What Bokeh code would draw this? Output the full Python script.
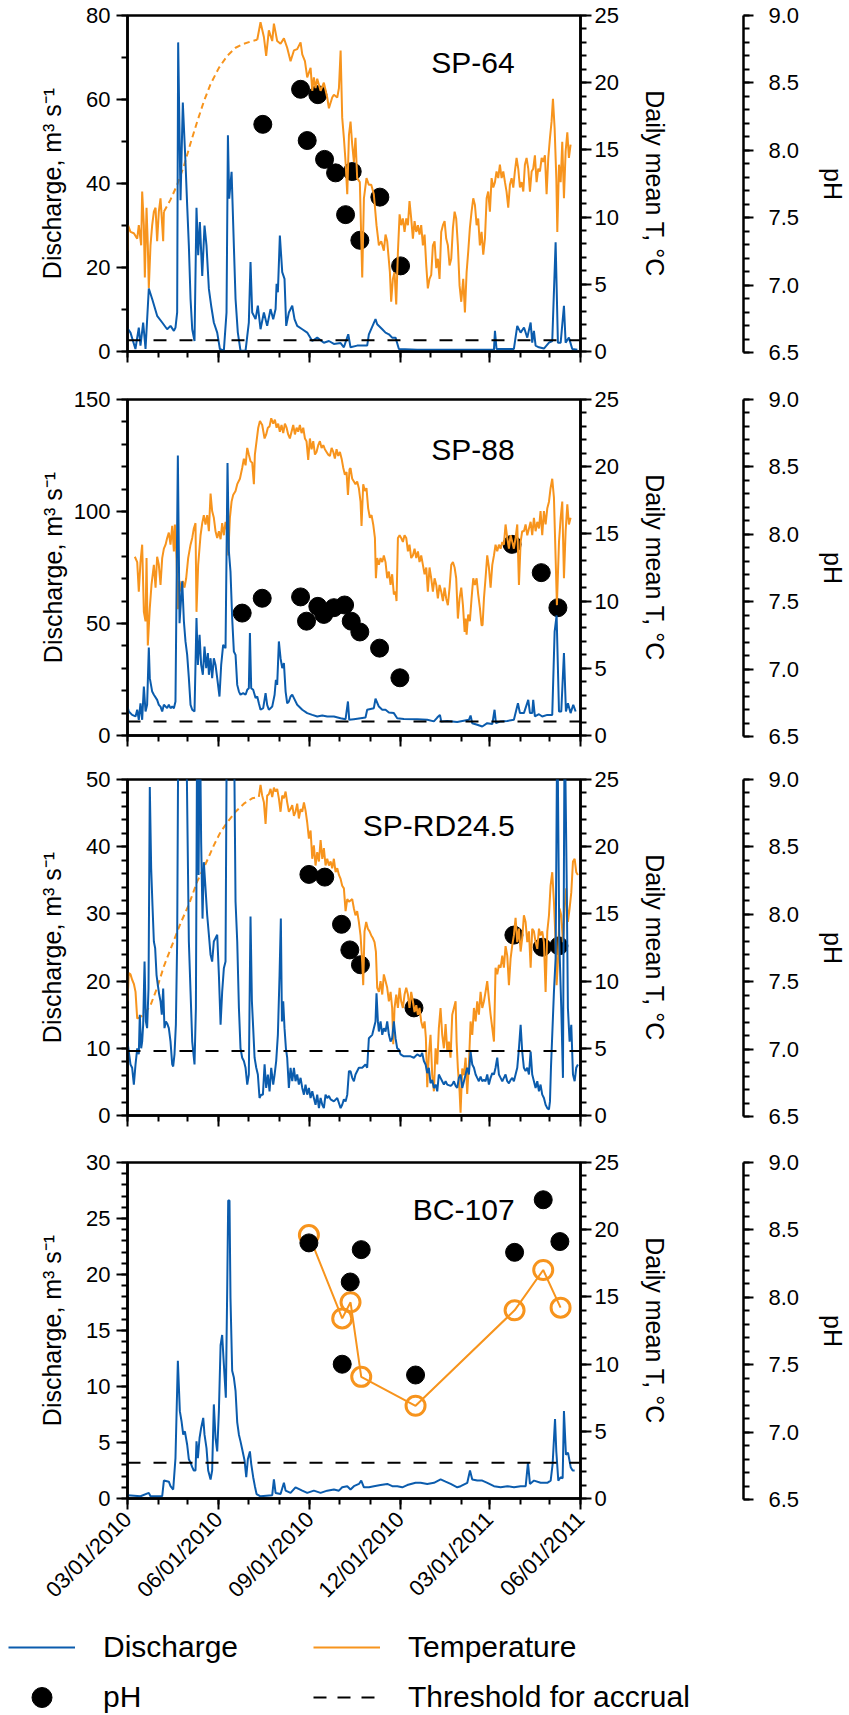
import math
import datetime as dt
from bokeh.plotting import figure
from bokeh.models import (Range1d, LinearAxis, FixedTicker, Span, Label, Legend, LegendItem,
                          DatetimeTickFormatter, NumeralTickFormatter, CustomJSTickFormatter)
from bokeh.layouts import column, row
from bokeh.embed import file_html
from bokeh.resources import INLINE

# ---------------- data (day offset from 03/01/2010, value) ----------------
sp64_discharge = [(0,5.5),(3,4.5),(8,0.6),(11.4,5.7),(13.1,1.4),(15.8,6.9),(18.2,0.6),(21.5,15.0),(24.9,12.5),(29.9,8.5),(35,6.9),(40,5.3),(43.4,6.1),(46.8,4.9),(48.4,5.7),(50.1,9.3),(51.1,73.6),(53.5,36.0),(55.8,59.3),(58.5,45.0),(60.2,34.8),(61.9,25.2),(63.6,12.5),(65.3,5.3),(67.6,2.5),(69.6,34.2),(71.3,22.9),(73,30.8),(75.4,18.0),(77.7,30.0),(79.7,25.2),(82.1,14.9),(84.4,10.9),(87.1,6.9),(90.5,4.5),(93.2,0.6),(97.2,0.2),(99.9,9.3),(101.3,51.5),(102.6,36.4),(105,42.8),(107.3,25.2),(109,12.5),(111.3,4.5),(114,0.2),(119.1,0.2),(122.4,6.9),(124.1,21.3),(125.8,9.3),(129.2,7.7),(131.5,10.9),(134.2,5.3),(137.6,9.3),(140.9,6.1),(144.3,10.1),(147,7.7),(149.4,10.1),(150.4,16.1),(151.7,14.1),(153.7,27.6),(156.1,18.9),(158.4,17.3),(160.1,6.1),(162.8,9.3),(166.2,10.9),(168.5,7.7),(171.2,6.1),(176.3,5.3),(181.3,4.5),(186.4,2.5),(191.4,3.3),(198.1,2.1),(203.2,2.5),(208.2,1.8),(215,2.0),(218.3,1.0),(222.7,4.1),(225,1.0),(231.7,1.4),(241.8,1.4),(243.5,4.1),(250.2,7.7),(251.9,6.5),(257,5.3),(260.3,4.5),(263.7,4.1),(267,3.3),(270.4,3.3),(273.8,0.6),(292.3,0.4),(326,0.4),(369.7,0.4),(370.7,4.9),(372.3,0.6),(389.8,0.6),(393.2,6.1),(396.6,4.5),(400,5.7),(403.3,3.3),(406.7,6.9),(408.3,2.1),(410,4.9),(411.7,1.4),(415,1.0),(420.1,0.7),(425.2,2.1),(428.5,2.5),(431.9,26.0),(434.2,2.1),(437,2.1),(440.3,10.9),(442,2.1),(445.3,3.3),(448.7,0.6),(453.8,0.4)]
sp64_temp_early = [(0,7.5),(0.5,9.4),(3,8.9),(6.4,8.8),(9.8,8.4),(11.4,9.4),(13.8,7.9),(14.8,11.9),(16.5,9.4),(17.5,5.5),(19.2,10.7),(20.5,7.9),(21.5,4.7),(23.2,7.9),(24.9,9.4),(26.6,10.4),(28.3,10.7),(29.9,8.2),(31.6,10.4),(33.3,11.4),(35,9.4),(36,8.2),(36.7,10.4)]
sp64_temp_gap = [(36.7,10.4),(43.4,11.3),(50.1,12.4),(56.9,13.8),(63.6,15.5),(70.3,17.1),(77,18.6),(83.8,19.9),(92.2,21.1),(100.6,22.0),(109,22.6),(117.4,22.9),(125.8,23.1),(130.9,23.2)]
sp64_temp_late = [(130.9,23.2),(134.2,24.5),(137.6,23.4),(139.9,22.0),(142.6,23.9),(146,23.1),(147.7,24.4),(151,23.1),(154.4,22.9),(157.8,23.3),(161.1,22.6),(164.5,21.6),(167.9,22.4),(171.2,22.5),(174.6,23.0),(176.3,22.1),(179,21.6),(181.3,20.4),(184.7,21.1),(186.4,19.4),(188,20.4),(189.7,19.6),(191.4,20.3),(194.8,19.4),(198.1,20.0),(201.5,18.9),(203.2,18.1),(206.5,18.9),(208.2,19.1),(211.6,18.9),(213.3,19.6),(215,22.4),(216.6,17.4),(218.3,15.9),(220,14.1),(221.7,11.7),(223.4,16.1),(225,17.1),(226.7,15.4),(228.4,14.1),(230,15.9),(231.7,12.9),(234.4,12.6),(236.8,5.5),(238.5,11.4),(241.1,12.9),(243.5,12.4),(245.9,12.4),(248.5,11.7),(251.2,9.4),(253.6,7.9),(256,8.2),(258.6,7.5),(260.3,8.7),(262,8.2),(264.7,5.9),(266,3.7),(267.7,5.4),(269.4,5.9),(271.1,3.5),(272.8,7.4),(274.5,10.2),(276.1,9.4),(277.8,9.9),(279.5,8.9),(281.2,9.9),(282.9,9.4),(284.5,11.2),(286.2,9.9),(287.9,8.4),(289.6,9.7),(291.3,8.9),(293,9.4),(294.6,8.7),(296.3,9.4),(298,7.9),(299.7,8.7),(301.4,6.4),(303,4.7),(304.7,5.4),(306.4,5.7),(308.1,7.9),(309.8,8.2),(311.5,6.2),(313.1,6.9),(314.8,5.4),(316.5,8.9),(318.2,9.4),(319.9,9.7),(321.5,8.4),(323.2,7.9),(324.9,6.4),(326.6,6.9),(328.3,9.2),(330,10.4),(331.6,9.9),(333.3,7.9),(335,4.9),(336.7,3.7),(338.7,5.4),(340.4,2.9),(342.1,5.9),(343.7,7.4),(345.4,9.2),(347.1,10.4),(348.8,11.4),(350.5,10.9),(352.2,9.4),(353.8,9.9),(355.5,7.9),(357.2,8.9),(358.9,7.2),(360.6,8.4),(362.3,11.4),(363.9,11.9),(365.6,10.4),(367.3,12.9),(369,12.2),(370.7,12.6),(372.3,13.4),(374,12.9),(375.7,13.9),(377.4,12.9),(379.1,13.4),(380.8,12.6),(382.4,11.9),(384.1,10.7),(385.8,12.4),(387.5,12.9),(389.2,12.2),(390.8,13.4),(392.5,14.4),(394.2,13.6),(395.9,12.2),(397.6,12.6),(399.3,11.9),(400.9,13.9),(402.6,14.4),(404.3,13.6),(406,11.9),(407.7,13.4),(409.3,13.6),(411,14.6),(412.7,12.6),(414.4,13.6),(416.1,13.4),(417.8,14.4),(419.4,14.1),(421.1,14.6),(422.8,11.7),(424.5,14.4),(426.2,15.9),(427.8,17.1),(429.2,18.8),(430.9,16.6),(432.6,12.9),(433.6,8.9),(435.3,13.9),(437,12.6),(438.6,15.6),(440.3,11.4),(442,14.9),(443.7,16.3),(445.3,14.4),(447,15.4)]
sp64_ph = [(136.5,8.20),(174.6,8.46),(181.3,8.08),(192,8.42),(198.8,7.94),(209.9,7.84),(220,7.53),(226.7,7.85),(234.4,7.34),(254.6,7.66),(275.5,7.15)]

sp88_discharge = [(0,12.9),(1.3,10.7),(4.7,9.2),(8.1,8.5),(9.8,11.5),(11.4,7.0),(13.1,14.4),(14.8,7.0),(16.5,21.9),(18.2,10.7),(19.8,13.7),(21.5,39.3),(22.5,25.6),(24.9,19.6),(26.6,18.2),(29.9,15.9),(31.6,13.7),(33.3,12.9),(35,10.7),(36.7,13.7),(40,12.2),(41.7,13.7),(43.4,12.2),(45.1,12.9),(46.8,12.2),(48.4,15.2),(50.8,125.0),(52.5,50.1),(55.2,68.8),(56.9,50.9),(58.5,42.0),(60.2,36.0),(61.9,25.6),(63.6,13.7),(65.3,11.5),(67.6,10.7),(69.6,52.4),(71,31.5),(72.7,44.9),(74.3,31.5),(76,27.1),(77.7,39.7),(79.4,30.1),(81.1,36.8),(82.1,27.1),(83.8,34.5),(85.4,25.6),(87.1,34.5),(88.8,31.5),(90.5,25.6),(92.8,17.4),(94.5,31.5),(96.5,40.5),(98.9,39.0),(100.9,121.6),(102.3,82.1),(103.9,73.2),(105.6,52.4),(107.3,37.5),(109,36.0),(110.7,22.6),(112.4,19.6),(114,18.2),(116.7,18.9),(119.1,18.2),(120.8,20.4),(122.4,21.1),(123.5,45.7),(124.8,21.1),(126.8,20.4),(129.2,16.7),(130.9,17.4),(132.5,14.4),(134.2,11.5),(136.9,12.2),(139.3,18.9),(140.9,13.7),(142.6,11.5),(144.3,12.2),(146,12.9),(148.4,18.2),(149.7,24.9),(151,22.6),(152.7,42.0),(154.4,34.5),(156.1,30.1),(157.8,32.3),(159.5,19.6),(161.1,14.4),(162.8,15.2),(164.5,17.4),(166.2,18.2),(167.9,16.7),(171.2,13.7),(176.3,11.5),(181.3,10.0),(186.4,9.2),(191.4,8.5),(196.5,8.9),(201.5,8.5),(208.2,8.5),(215,7.7),(220,7.3),(222.4,15.2),(223.7,7.0),(228.4,7.3),(235.1,7.7),(240.1,8.0),(241.8,11.5),(248.5,12.2),(250.2,16.4),(253.6,12.9),(257,11.5),(260.3,11.5),(263.7,10.3),(268.7,10.0),(272.1,7.7),(278.8,7.4),(292.3,7.3),(302.4,7.0),(309.1,6.3),(312.5,8.0),(315.2,9.2),(316.5,6.3),(322.6,6.5),(332.6,6.0),(344.4,7.0),(346.1,8.9),(347.8,5.5),(352.8,4.8),(357.9,4.0),(362.9,5.5),(368,5.1),(370.3,11.5),(371.7,5.5),(376.4,6.3),(383.1,6.5),(389.8,7.0),(393.9,14.4),(395.9,10.0),(399.9,10.0),(404.3,15.9),(406,10.0),(408.3,10.0),(409.3,15.9),(411,8.5),(415.1,9.5),(418.4,8.5),(423.5,9.2),(428.5,9.2),(430.9,46.4),(432.9,53.6),(435.3,10.7),(437.6,10.7),(440.3,36.8),(442.3,10.7),(444.3,14.4),(447,10.0),(449.7,13.7),(452.1,10.7)]
sp88_temp = [(7.4,13.3),(9.8,12.9),(11.4,10.7),(13.1,12.9),(14.8,14.2),(16.5,9.2),(18.2,8.5),(19.2,13.2),(20.5,6.7),(22.5,9.5),(24.2,11.2),(26.6,12.7),(28.3,11.0),(29.9,13.3),(31.6,12.7),(33.3,11.2),(35,13.2),(36.7,13.9),(38.4,14.2),(40,14.7),(41.7,15.1),(43.4,14.2),(45.1,15.6),(46.8,13.7),(47.8,15.7),(49.5,13.2),(50.8,9.4),(52.5,11.5),(54.2,10.7),(55.8,11.5),(57.5,11.0),(59.2,11.7),(61.2,13.2),(63.6,14.2),(65.3,14.7),(66.9,15.4),(68.6,15.8),(69.6,9.2),(71.3,12.7),(73.7,14.9),(75.4,15.8),(77,16.4),(78.7,15.7),(80.4,16.4),(82.1,15.2),(83.8,18.0),(85.4,16.7),(87.1,16.2),(88.8,15.2),(90.5,14.7),(92.2,15.2),(93.9,14.6),(95.5,15.8),(97.2,14.9),(98.9,15.9),(100.6,15.2),(101.6,13.4),(103.3,16.2),(105,17.4),(106.6,17.9),(109,18.2),(110.7,18.7),(113.4,19.1),(115.7,19.9),(117.4,20.6),(119.1,20.1),(120.8,21.4),(122.4,20.9),(124.1,20.4),(125.8,20.3),(127.5,18.7),(128.5,20.9),(130.2,21.9),(131.9,22.9),(133.6,23.4),(135.9,23.1),(138.3,22.1),(139.9,22.4),(141.6,22.9),(143.3,23.0),(145,23.6),(147,23.2),(148.7,23.5),(150.4,22.9),(152,23.2),(153.7,22.6),(155.4,23.1),(157.1,22.5),(158.8,23.2),(160.5,22.9),(162.1,22.4),(163.8,22.1),(165.5,22.6),(167.2,23.1),(168.9,22.4),(170.6,22.9),(172.2,22.6),(173.9,23.1),(175.6,22.5),(177.3,22.9),(179,22.1),(180.6,21.9),(182.3,20.5),(184,22.1),(185.7,21.3),(187.4,21.9),(189.1,20.9),(190.7,21.1),(192.4,21.6),(194.1,21.9),(195.8,21.4),(197.5,21.6),(199.1,21.3),(200.8,21.1),(202.5,20.9),(204.2,20.8),(205.9,21.4),(207.6,21.1),(209.2,20.6),(210.9,21.3),(212.6,20.8),(214.3,21.1),(216,20.6),(217.7,19.9),(219.3,19.4),(221,19.6),(222.4,17.9),(224,19.8),(225,19.9),(226.7,19.1),(228.4,18.9),(230,18.7),(231.7,18.9),(233.4,18.4),(235.1,17.4),(236.1,15.6),(237.8,18.7),(239.5,18.2),(241.1,18.4),(242.8,16.9),(244.5,16.2),(246.2,16.4),(247.9,15.7),(249.6,14.7),(250.6,11.7),(251.9,13.2),(253.6,12.7),(255.3,13.2),(257,12.9),(258.6,13.4),(260.3,12.9),(262,11.7),(263.7,12.2),(265.4,11.2),(267,12.0),(268.7,10.5),(270.4,10.7),(271.4,10.0),(272.8,14.7),(274.5,14.9),(276.1,14.7),(277.8,14.4),(279.5,14.9),(281.2,14.7),(282.9,13.7),(284.5,14.2),(286.2,13.2),(287.9,13.4),(289.6,13.9),(291.3,13.2),(293,13.7),(294.6,12.9),(296.3,13.4),(298,12.7),(299.7,12.0),(301.4,12.5),(303,10.7),(304.7,12.5),(306.4,11.7),(308.1,10.7),(309.8,11.7),(311.5,11.2),(313.1,10.2),(314.8,11.2),(316.5,10.7),(318.2,10.0),(319.9,11.0),(321.5,10.2),(323.2,9.7),(324.9,11.0),(326.6,12.7),(328.3,12.9),(330,12.5),(331.6,11.7),(333.3,8.7),(335,10.2),(336.7,11.0),(338.4,9.7),(340.1,7.7),(341.1,8.7),(342.1,7.5),(343.7,9.0),(345.4,8.5),(347.1,10.2),(348.8,11.7),(350.5,11.2),(352.2,11.7),(353.8,10.5),(355.5,9.5),(357.2,8.2),(358.2,8.2),(359.6,10.2),(361.2,11.7),(362.9,13.4),(364.6,12.5),(366.3,11.0),(368,12.7),(369.7,13.4),(371.3,14.2),(373,13.7),(374.7,14.2),(376.4,13.9),(378.1,14.4),(379.7,14.2),(381.4,15.7),(383.1,14.7),(384.8,13.9),(386.5,14.9),(388.2,14.4),(389.8,13.9),(391.5,14.7),(393.2,15.7),(394.9,11.2),(396.6,14.4),(398.2,15.2),(399.9,15.2),(401.6,15.7),(403.3,14.9),(405,15.4),(406.7,15.9),(408.3,14.9),(410,16.2),(411.7,15.2),(413.4,15.9),(415.1,15.4),(416.7,16.7),(418.4,14.9),(420.1,16.7),(421.8,15.7),(423.5,16.9),(425.2,17.4),(426.8,18.4),(428.5,19.1),(430.2,17.7),(431.9,13.2),(433.2,9.7),(435.3,14.4),(437,16.2),(438.6,17.4),(440.3,11.7),(442,15.2),(443.7,17.2),(445.3,15.7),(447,16.2)]
sp88_ph = [(115.7,7.46),(135.9,7.57),(174.6,7.58),(180.6,7.40),(192,7.51),(198,7.45),(208.2,7.50),(219,7.52),(225.7,7.40),(234.4,7.32),(254.3,7.20),(274.8,6.98),(388,7.97),(417.4,7.76),(434.2,7.50)]

rd245_discharge = [(0,11.0),(1.3,9.5),(3,7.6),(4.7,7.1),(6.4,4.6),(8.1,7.6),(9.8,10.0),(11.4,9.1),(12.4,15.0),(13.8,10.0),(14.8,11.0),(15.8,13.5),(17.2,22.9),(18.5,14.0),(19.8,13.0),(21.2,18.9),(22.5,48.9),(23.9,36.7),(25.2,31.3),(26.6,25.9),(27.9,24.9),(29.3,20.9),(30.6,19.4),(32,18.0),(33.3,17.0),(34.6,15.0),(36,18.9),(37.3,13.0),(38.7,14.0),(40,13.7),(41.7,13.0),(43.4,11.0),(45.1,7.6),(46.1,7.3),(47.4,9.1),(48.8,13.5),(50.1,25.9),(51.5,65.0),(53.5,80.0),(55.5,70.0),(57.5,62.0),(59.5,55.0),(61.9,25.9),(63.6,18.4),(65.3,11.0),(67.6,7.6),(69,16.0),(70.3,60.0),(71.7,35.8),(73,60.0),(74.3,40.7),(75.7,29.3),(77,37.7),(78.7,33.8),(80.4,29.8),(82.1,26.9),(83.8,23.9),(85.4,22.9),(87.1,25.9),(88.8,26.4),(90.5,26.9),(92.2,20.9),(93.9,13.5),(95.5,18.4),(97.2,21.9),(98.9,22.9),(100.6,70.0),(103.9,60.0),(107.3,60.0),(109,31.8),(110.7,25.9),(112.4,16.0),(114,10.0),(115.7,8.6),(117.4,8.1),(119.1,7.1),(120.8,4.6),(122.4,6.1),(124.1,29.6),(125.5,17.0),(126.8,13.0),(128.2,8.6),(129.9,7.1),(131.5,6.1),(133.2,2.6),(134.9,3.1),(136.6,3.1),(138.3,7.6),(139.9,4.1),(141.6,6.1),(143.3,3.6),(145,7.1),(147,4.6),(148.4,6.1),(150,8.1),(151.7,12.0),(153.4,20.9),(154.7,29.3),(155.8,14.0),(157.1,17.0),(158.4,13.0),(159.8,10.0),(161.1,8.6),(162.8,4.1),(164.5,7.1),(166.2,5.1),(167.9,7.1),(169.5,5.1),(171.2,6.1),(172.9,4.6),(174.6,5.6),(176.3,4.1),(178,3.1),(179.6,4.6),(181.3,3.1),(183,4.1),(184.7,2.6),(186.4,3.6),(188,2.6),(189.7,1.6),(191.4,3.1),(193.1,1.1),(194.8,2.6),(196.5,1.6),(198.1,1.1),(199.8,3.1),(201.5,2.6),(203.2,2.9),(204.9,2.4),(208.2,2.1),(211.6,2.6),(215,1.1),(216.6,1.6),(218.3,2.4),(220,2.1),(221.7,3.1),(223.4,6.6),(225,6.6),(226.7,5.6),(228.4,5.1),(230,6.1),(233.4,7.1),(236.8,7.1),(240.1,7.6),(241.8,7.1),(243.5,11.5),(246.9,12.0),(250.2,14.0),(251.2,18.2),(252.6,14.0),(253.6,12.5),(255.3,14.0),(257,12.0),(258.6,13.0),(260.3,12.5),(262,14.0),(263.7,12.0),(265.4,11.0),(267,11.5),(268.7,14.0),(270.4,11.5),(272.1,10.0),(273.8,9.8),(275.5,9.1),(278.8,8.8),(285.6,8.8),(288.9,8.6),(292.3,9.1),(295.6,8.8),(297.3,9.3),(299,8.1),(300.7,7.6),(302.4,6.3),(304,7.1),(305.7,4.8),(307.4,5.3),(309.1,4.1),(310.8,4.6),(312.5,3.6),(314.1,6.1),(315.8,5.6),(317.5,5.1),(319.2,4.6),(320.9,5.1),(322.6,4.6),(325.9,4.4),(327.6,4.6),(329.3,5.1),(331,4.4),(332.6,4.1),(334.3,5.6),(336,6.1),(337.7,4.1),(339.4,5.1),(341.1,6.1),(342.7,7.1),(344.4,6.1),(346.1,9.5),(347.8,7.6),(349.5,7.1),(351.2,6.1),(352.8,5.6),(354.5,5.1),(356.2,5.8),(357.9,5.1),(359.6,5.3),(361.2,5.1),(362.9,6.1),(364.6,4.6),(366.3,5.6),(368,6.3),(369.7,6.1),(371.3,7.1),(373,8.6),(374.7,6.1),(376.4,5.6),(378.1,5.1),(379.7,5.6),(381.4,6.1),(383.1,5.1),(384.8,4.8),(386.5,5.3),(388.2,5.6),(389.8,5.1),(391.5,6.1),(393.2,7.1),(394.9,10.0),(396.6,13.5),(398.2,9.5),(399.9,7.1),(401.6,6.6),(403.3,7.1),(405,6.1),(406.7,9.5),(408.3,6.1),(410,5.1),(411.7,4.1),(413.4,5.1),(415.1,3.6),(416.7,4.6),(418.4,3.1),(420.1,2.6),(421.8,1.6),(423.5,1.1),(425.2,0.9),(426.2,2.1),(427.2,7.1),(428.5,12.0),(430.2,18.4),(431.9,23.4),(433.6,60.0),(435.6,25.9),(437.6,16.0),(439.3,5.6),(441,60.0),(443,35.8),(444.3,16.0),(446,11.0),(447.7,13.5),(449.4,6.1),(451.1,5.1),(452.7,7.1),(454.4,7.6)]
rd245_temp_early = [(0,8.5),(1.3,10.6),(3,10.5),(4.7,10.1),(6.4,9.8),(8.1,9.2),(9.8,7.2)]
rd245_temp_gap = [(9.8,7.2),(16.5,7.5),(23.2,8.2),(29.9,9.5),(36.7,11.1),(45.1,12.7),(53.5,14.3),(61.9,15.7),(70.3,17.4),(78.7,18.7),(87.1,20.1),(93.9,21.1),(100.6,21.8),(109,22.6),(117.4,23.2),(125.8,23.6),(132.5,23.7)]
rd245_temp_late = [(132.5,23.7),(134.2,24.6),(135.9,23.8),(137.6,23.3),(139.3,21.7),(140.9,23.8),(142.6,23.9),(144.3,24.3),(146,23.7),(147.7,24.4),(149.4,24.1),(151,24.3),(152.7,23.6),(154.4,22.6),(156.1,23.8),(157.8,23.6),(159.5,24.1),(161.1,23.3),(162.8,22.6),(164.5,22.8),(166.2,23.1),(167.9,22.3),(169.5,22.6),(171.2,23.2),(172.9,22.1),(174.6,22.8),(176.3,22.6),(178,23.3),(179.6,22.7),(181.3,21.8),(183,20.6),(184.7,21.2),(186.4,19.1),(188,20.1),(189.7,18.6),(191.4,19.6),(193.1,18.9),(194.8,20.5),(196.5,19.1),(198.1,19.9),(199.8,18.6),(201.5,19.1),(203.2,18.6),(204.9,18.9),(206.5,18.4),(208.2,19.1),(209.9,18.1),(211.6,18.4),(213.3,17.9),(215,17.6),(216.6,17.1),(218.3,16.9),(220,15.2),(221.7,16.1),(223.4,15.9),(225,16.0),(226.7,16.1),(228.4,15.4),(230,14.9),(231.7,15.2),(233.4,14.4),(235.1,13.4),(236.8,11.4),(237.8,9.7),(239.1,13.7),(240.8,14.4),(242.5,13.9),(244.2,13.7),(245.9,13.4),(247.5,13.2),(249.2,12.9),(250.6,12.2),(251.9,9.5),(253.6,9.2),(255.3,10.0),(257,9.0),(258.6,10.5),(260.3,10.0),(262,9.5),(263.7,8.5),(265.4,9.2),(267,8.0),(268.1,5.3),(269.4,8.0),(271.1,9.0),(272.8,8.0),(274.5,9.5),(276.1,8.5),(277.8,8.0),(279.5,9.0),(281.2,9.5),(282.9,9.0),(284.5,8.0),(286.2,9.2),(287.9,8.5),(289.6,7.7),(291.3,8.2),(293,7.5),(294.6,8.0),(296.3,7.0),(298,6.5),(299.7,7.0),(301,5.8),(302.4,2.1),(304,4.5),(305.7,6.0),(307.4,3.0),(309.1,1.8),(310.8,5.0),(312.5,3.8),(314.1,6.5),(315.8,8.0),(317.5,6.0),(319.2,5.0),(320.9,6.8),(322.6,4.8),(324.2,5.5),(325.9,4.3),(327.6,7.5),(329.3,8.0),(331,8.5),(332,5.5),(333.3,3.5),(335,1.8),(336,0.2),(337.7,3.5),(339.4,3.0),(341.1,4.3),(342.7,1.6),(344.4,3.8),(346.1,7.0),(347.8,6.0),(349.5,8.0),(351.2,7.0),(352.8,8.5),(354.5,7.5),(356.2,9.2),(357.9,8.0),(359.6,8.5),(361.2,9.2),(362.9,10.0),(364.6,8.7),(366.3,7.5),(368,6.5),(369.7,5.5),(371.3,11.0),(373,10.5),(374.7,11.2),(376.4,11.0),(378.1,11.9),(379.7,11.0),(381.4,12.6),(383.1,11.9),(384.8,9.7),(386.5,11.7),(388.2,12.7),(389.8,13.4),(391.5,14.7),(393.2,12.9),(394.9,13.9),(396.6,12.2),(398.2,13.2),(399.9,14.9),(401.6,14.4),(403.3,12.9),(405,13.7),(406.7,11.0),(408.3,13.9),(410,13.7),(411.7,12.9),(413.4,12.4),(415.1,13.9),(416.7,13.4),(418.4,13.7),(420.1,12.9),(421.8,9.2),(423.5,13.7),(425.2,14.9),(426.8,17.1),(428.5,18.1),(430.2,15.9),(431.9,12.9),(432.9,9.7),(434.2,11.4),(435.9,15.4),(437.6,14.9),(439.3,12.9),(441,15.4),(442.6,16.9),(444.3,14.4),(446,15.4),(447.7,16.6),(449.4,18.9),(451.1,19.1),(452.7,18.1),(454.4,17.9)]
rd245_ph = [(183,8.37),(199,8.35),(215.9,8.00),(224.3,7.81),(235,7.70),(289,7.38),(389.8,7.92),(418.4,7.83),(435.2,7.84)]

bc107_discharge = [(0,0.3),(13.1,0.2),(21.5,0.5),(23.2,0.2),(35,0.2),(36.7,1.6),(41.7,1.5),(43.4,1.1),(46.1,0.8),(48.4,3.6),(50.8,12.3),(52.8,7.8),(54.5,6.9),(56.2,5.7),(57.9,6.0),(60.2,4.8),(61.9,3.5),(63.6,3.2),(65.3,2.8),(66.9,2.5),(68.6,2.5),(69.6,5.1),(71,3.6),(72.7,5.4),(74.3,6.3),(76.4,7.2),(77.7,5.7),(79.7,4.5),(81.4,2.5),(83.8,1.7),(85.4,2.5),(87.1,8.4),(88.8,5.4),(90.5,4.2),(92.2,7.8),(93.9,13.7),(95.5,14.6),(97.2,12.0),(99.2,9.0),(100.6,18.8),(101.6,26.6),(102.9,26.6),(103.9,17.9),(105.6,11.4),(107.3,10.8),(109,9.6),(110.7,6.8),(112.4,5.7),(114,5.1),(115.7,4.4),(118.1,3.4),(119.8,1.9),(121.4,3.5),(123.5,4.2),(124.8,3.1),(126.8,1.9),(128.5,1.1),(130.2,0.4),(134.2,0.2),(146,0.3),(147.7,1.7),(149.4,0.5),(154.4,0.4),(157.8,1.4),(159.5,0.7),(164.5,0.5),(169.5,1.0),(176.3,0.7),(181.3,0.5),(188,0.7),(194.8,0.5),(201.5,0.7),(208.2,0.8),(213.3,0.7),(216.6,1.0),(221.7,1.1),(225,0.8),(228.4,1.1),(233.5,1.3),(235.8,1.6),(238.5,1.0),(243.6,1.0),(248.6,1.1),(255.3,1.2),(262.1,1.3),(267.1,1.1),(272.2,1.1),(277.2,1.0),(282.2,1.2),(290.6,1.4),(295.7,1.4),(302.4,1.3),(309.2,1.4),(315.9,1.7),(320.9,1.5),(326,1.3),(332.7,1.0),(336.1,1.1),(342.8,1.4),(345.5,2.5),(347.8,1.7),(352.9,1.6),(357.9,1.6),(363,1.4),(369.7,1.1),(376.4,1.0),(383.2,1.1),(389.9,1.0),(396.6,1.1),(401.7,1.1),(404,3.2),(406,1.3),(410.1,1.6),(416.8,1.4),(423.5,1.4),(426.9,1.6),(428.9,3.1),(431.3,7.1),(432.6,4.2),(434.6,1.6),(437,1.9),(439,1.8),(440.3,7.8),(442.3,3.9),(444.4,4.1),(447.1,2.8),(449.1,2.5),(451.1,2.5)]
bc107_temp = [(183,19.6),(216.6,13.4),(225,14.6),(235.8,9.05),(290.6,6.9),(390.5,14.0),(419.4,17.0),(436.9,14.2)]
bc107_ph = [(183,8.50),(216.6,7.60),(224.7,8.21),(235.8,8.45),(290.6,7.52),(390.5,8.43),(419.4,8.82),(436.2,8.51)]

site_names = ["SP-64", "SP-88", "SP-RD24.5", "BC-107"]
discharge_max = [80, 150, 50, 30]
discharge_major = [[0, 20, 40, 60, 80], [0, 50, 100, 150], [0, 10, 20, 30, 40, 50], [0, 5, 10, 15, 20, 25, 30]]
discharge_minor_step = [10, 10, 2, 1]
thresholds = [2.7, 6.25, 9.6, 3.2]
temp_major = [0, 5, 10, 15, 20, 25]
ph_major = [6.5, 7.0, 7.5, 8.0, 8.5, 9.0]
x_tick_labels = ["03/01/2010", "06/01/2010", "09/01/2010", "12/01/2010", "03/01/2011", "06/01/2011"]

# ---------------- styling / layout ----------------
BLUE = "#0b5cad"
ORANGE = "#f7941d"
FONT = "Liberation Sans"
TICK_FS = "22px"
BASE = dt.datetime(2010, 3, 1)
EPOCH = dt.datetime(1970, 1, 1)

FRAME_W, FRAME_H, PH_H = 453, 336, 337
frame_tops = [14, 393, 769, 1149]
ph_tops = [15, 399, 779, 1162]
row_starts = [0, 372, 752, 1130]
row_heights = [372, 380, 378, 475]
title_offsets = [46.5, 50, 46, 47]
left_label_standoff = [17, 4, 17, 17]


def ms(d):
    return (d - EPOCH).total_seconds() * 1000.0


def xs(pairs):
    return [BASE + dt.timedelta(days=d) for d, _ in pairs]


def ys(pairs):
    return [v for _, v in pairs]


x_major = [ms(dt.datetime.strptime(s, "%m/%d/%Y")) for s in x_tick_labels]
x_minor = [ms(dt.datetime(2010 + (2 + k) // 12, (2 + k) % 12 + 1, 1)) for k in range(16)]
XSTART = dt.datetime.strptime(x_tick_labels[0], "%m/%d/%Y")
XEND = dt.datetime.strptime(x_tick_labels[-1], "%m/%d/%Y")


def style_axis(ax, major_out=11, minor_out=6):
    ax.axis_line_width = 2.5
    ax.axis_line_color = "black"
    ax.major_tick_line_width = 2
    ax.minor_tick_line_width = 2
    ax.major_tick_line_color = "black"
    ax.minor_tick_line_color = "black"
    ax.major_tick_in = 0
    ax.major_tick_out = major_out
    ax.minor_tick_in = 0
    ax.minor_tick_out = minor_out
    ax.major_label_text_font = FONT
    ax.major_label_text_font_size = TICK_FS
    ax.major_label_text_color = "black"
    ax.axis_label_text_font = FONT
    ax.axis_label_text_font_size = "25px"
    ax.axis_label_text_font_style = "normal"
    ax.axis_label_text_color = "black"


panels = [
    dict(q=sp64_discharge, solid=[sp64_temp_early, sp64_temp_late], dashed=[sp64_temp_gap], ph=sp64_ph, samples=None),
    dict(q=sp88_discharge, solid=[sp88_temp], dashed=[], ph=sp88_ph, samples=None),
    dict(q=rd245_discharge, solid=[rd245_temp_early, rd245_temp_late], dashed=[rd245_temp_gap], ph=rd245_ph, samples=None),
    dict(q=bc107_discharge, solid=[], dashed=[], ph=bc107_ph, samples=bc107_temp),
]

rows = []
for i, spec in enumerate(panels):
    top = frame_tops[i] - row_starts[i]
    bottom = row_heights[i] - top - FRAME_H
    qmax = discharge_max[i]
    p = figure(frame_width=FRAME_W, frame_height=FRAME_H,
               min_border_left=127, min_border_right=95,
               min_border_top=top, min_border_bottom=bottom,
               x_axis_type="datetime", x_range=Range1d(XSTART, XEND),
               y_range=Range1d(0, qmax),
               output_backend="svg", toolbar_location=None)
    p.grid.visible = False
    p.outline_line_color = "black"
    p.outline_line_width = 2.5
    p.background_fill_color = "white"

    per_px = 2.5 / PH_H
    ph_hi = 9.0 + (ph_tops[i] - frame_tops[i]) * per_px
    ph_lo = 6.5 + (ph_tops[i] + PH_H - frame_tops[i] - FRAME_H) * per_px
    p.extra_y_ranges = {"temp": Range1d(0, 25), "ph": Range1d(ph_lo, ph_hi)}

    # left discharge axis
    ya = p.yaxis[0]
    style_axis(ya)
    ya.ticker = FixedTicker(ticks=discharge_major[i],
                            minor_ticks=list(range(0, qmax + 1, discharge_minor_step[i])))
    ya.axis_label = "Discharge, m\u00b3 s\u207b\u00b9"
    ya.major_label_standoff = 6
    ya.axis_label_standoff = left_label_standoff[i]

    # right temperature axis
    ta = LinearAxis(y_range_name="temp")
    style_axis(ta)
    ta.ticker = FixedTicker(ticks=temp_major, minor_ticks=list(range(0, 26)))
    ta.axis_label = "Daily mean T, \u00b0C"
    ta.major_label_standoff = 3
    ta.axis_label_standoff = 19
    p.add_layout(ta, "right")

    # bottom date axis
    xa = p.xaxis[0]
    style_axis(xa)
    xa.ticker = FixedTicker(ticks=x_major, minor_ticks=x_minor)
    if i < 3:
        xa.formatter = CustomJSTickFormatter(code="return ''")
        xa.major_label_standoff = 0
    else:
        fmt = "%m/%d/%Y"
        xa.formatter = DatetimeTickFormatter(milliseconds=fmt, seconds=fmt, minsec=fmt, minutes=fmt,
                                             hourmin=fmt, hours=fmt, days=fmt, months=fmt, years=fmt)
        xa.major_label_orientation = math.pi / 4
        xa.major_label_standoff = 6

    # pH points first, lines drawn over them
    if spec["samples"] is not None:
        p.line(xs(spec["samples"]), ys(spec["samples"]), y_range_name="temp",
               line_color=ORANGE, line_width=2)
        p.scatter(xs(spec["samples"]), ys(spec["samples"]), y_range_name="temp",
                  marker="circle", size=19, fill_color=None, line_color=ORANGE, line_width=3)
    p.scatter(xs(spec["ph"]), ys(spec["ph"]), y_range_name="ph", marker="circle",
              size=18, fill_color="black", line_color="black")

    for seg in spec["solid"]:
        p.line(xs(seg), ys(seg), y_range_name="temp", line_color=ORANGE, line_width=2)
    for seg in spec["dashed"]:
        p.line(xs(seg), ys(seg), y_range_name="temp", line_color=ORANGE, line_width=2,
               line_dash="6 4")
    p.line(xs(spec["q"]), ys(spec["q"]), line_color=BLUE, line_width=2)

    p.add_layout(Span(location=thresholds[i], dimension="width", line_color="black",
                      line_width=2, line_dash="13 13"))

    p.add_layout(Label(x=ms(BASE + dt.timedelta(days=390.5)),
                       y=qmax * (1 - title_offsets[i] / FRAME_H),
                       text=site_names[i], text_align="right", text_baseline="middle",
                       text_font=FONT, text_font_size="30px", text_color="black"))

    # separate pH axis strip
    ptop = ph_tops[i] - row_starts[i]
    ph = figure(frame_width=1, frame_height=PH_H, min_border_left=67, min_border_right=105,
                min_border_top=ptop, min_border_bottom=row_heights[i] - ptop - PH_H,
                x_range=Range1d(0, 1), y_range=Range1d(6.5, 9.0),
                x_axis_location=None, y_axis_location="right",
                output_backend="svg", toolbar_location=None)
    ph.grid.visible = False
    ph.outline_line_color = None
    ph.scatter(x=[-5], y=[0], size=1, alpha=0)
    pa = ph.yaxis[0]
    style_axis(pa, major_out=10, minor_out=6)
    pa.ticker = FixedTicker(ticks=ph_major, minor_ticks=[round(6.5 + 0.1 * k, 1) for k in range(26)])
    pa.formatter = NumeralTickFormatter(format="0.0")
    pa.axis_label = "pH"
    pa.major_label_standoff = 15
    pa.axis_label_standoff = 17

    rows.append(row(p, ph))

# ---------------- legend strip ----------------
lf = figure(width=849, height=110, min_border=0, x_range=Range1d(0, 1), y_range=Range1d(0, 1),
            x_axis_location=None, y_axis_location=None,
            output_backend="svg", toolbar_location=None)
lf.outline_line_color = None
lf.xgrid.visible = False
lf.ygrid.visible = False
off = dict(x=[-3, -2], y=[-3, -2])  # outside the visible range: only the legend samples show
r_q = lf.line(off["x"], off["y"], line_color=BLUE, line_width=2)
r_t = lf.line(off["x"], off["y"], line_color=ORANGE, line_width=2)
r_ph = lf.scatter(off["x"], off["y"], marker="circle", size=20, fill_color="black", line_color="black")
r_thr = lf.line(off["x"], off["y"], line_color="black", line_width=2, line_dash="13 11")


def make_legend(items, loc):
    return Legend(items=items, location=loc, orientation="vertical",
                  glyph_width=67, glyph_height=50, label_standoff=28, spacing=0,
                  padding=0, margin=0, border_line_color=None, background_fill_alpha=0,
                  label_text_font=FONT, label_text_font_size="30px", label_text_color="black")


lf.add_layout(make_legend([LegendItem(label="Discharge", renderers=[r_q]),
                           LegendItem(label="pH", renderers=[r_ph])], (8, -7)))
lf.add_layout(make_legend([LegendItem(label="Temperature", renderers=[r_t]),
                           LegendItem(label="Threshold for accrual", renderers=[r_thr])], (313, -7)))

layout = column(*rows, lf)
open("out.html", "w").write(file_html(layout, INLINE))
